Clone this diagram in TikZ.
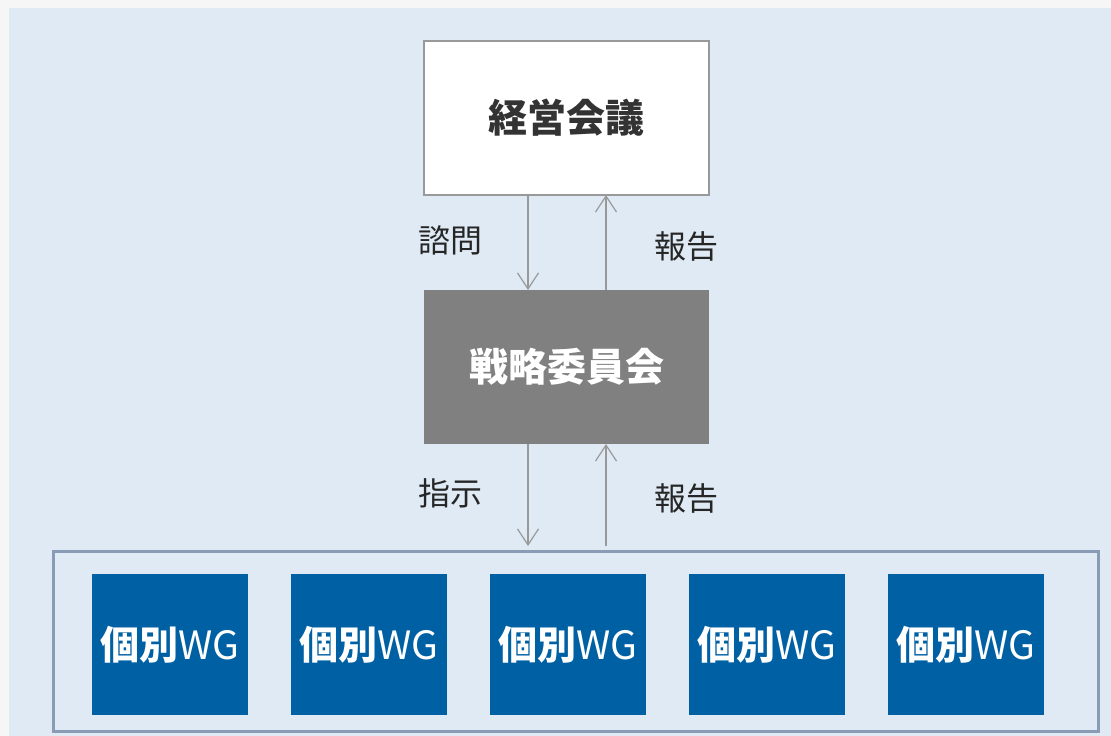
\documentclass[tikz,border=0pt]{standalone}
\usepackage{fontspec}
\newfontfamily\cjk{Noto Sans CJK JP}
\usetikzlibrary{arrows.meta}
\definecolor{pagebg}{HTML}{F6F6F6}
\definecolor{panelbg}{HTML}{DFEAF4}
\definecolor{boxline}{HTML}{999999}
\definecolor{midfill}{HTML}{808080}
\definecolor{framecol}{HTML}{8A9BB5}
\definecolor{wgfill}{HTML}{0060A4}
\definecolor{txt}{HTML}{333333}
\tikzset{
  topbox/.style={draw=boxline, line width=1.2pt, fill=white, minimum width=285pt, minimum height=154pt, inner sep=0pt, font=\cjk\fontsize{39}{42}\selectfont\bfseries, text=txt},
  midbox/.style={fill=midfill, minimum width=285pt, minimum height=154pt, inner sep=0pt, font=\cjk\fontsize{39}{42}\selectfont\bfseries, text=white},
  wgbox/.style={fill=wgfill, minimum width=156pt, minimum height=141pt, inner sep=0pt, font=\cjk\fontsize{39}{42}\selectfont, text=white},
  conn/.style={draw=boxline, line width=1.2pt, -{Straight Barb[length=16pt,width=21pt,line width=1.2pt]}},
  lbl/.style={font=\cjk\fontsize{32}{35}\selectfont, text=black!85, inner sep=0pt}
}
\begin{document}
\begin{tikzpicture}[x=1pt,y=-1pt]
\useasboundingbox (0,0) rectangle (1111,736);
\fill[pagebg] (0,0) rectangle (1111,736);
\fill[panelbg] (9,8) rectangle (1111,736);
\node[topbox] (top) at (566.5,118) {経営会議};
\node[midbox] (mid) at (566.5,367) {戦略委員会};
\node[draw=framecol, line width=3pt, minimum width=1045pt, minimum height=180pt, inner sep=0pt] (frame) at (575.5,641) {};
\foreach \i/\x in {1/170,2/368.5,3/568,4/767,5/966} {
  \node[wgbox] (wg\i) at (\x,644.5) {\textbf{個別}WG};
}
\coordinate (a1s) at (528,195); \coordinate (a1e) at (528,290);
\coordinate (a2s) at (606,290); \coordinate (a2e) at (606,195);
\coordinate (a3s) at (528,444); \coordinate (a3e) at (528,546);
\coordinate (a4s) at (606,546); \coordinate (a4e) at (606,444);
\draw[conn] (a1s) -- (a1e);
\draw[conn] (a2s) -- (a2e);
\draw[conn] (a3s) -- (a3e);
\draw[conn] (a4s) -- (a4e);
\node[lbl] (l1) at (450,240) {諮問};
\node[lbl] (l2) at (686,246) {報告};
\node[lbl] (l3) at (450,493) {指示};
\node[lbl] (l4) at (686,498) {報告};
\end{tikzpicture}
\end{document}
